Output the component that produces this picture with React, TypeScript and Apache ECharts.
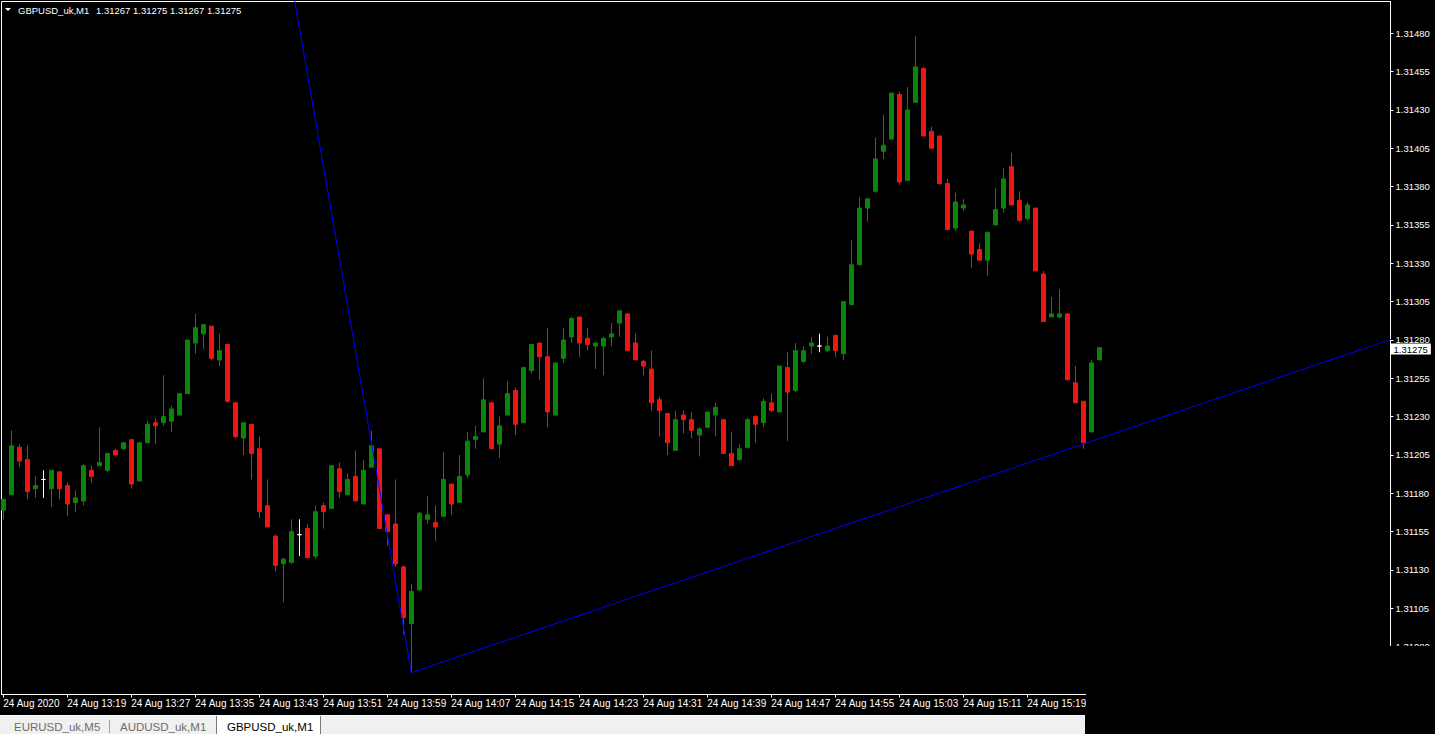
import React, { useEffect, useRef } from 'react';
import * as echarts from 'echarts';

const symbolName = 'GBPUSD_uk,M1';

// one-minute bars, 24 Aug 2020 13:11 .. 15:28
const opens = [
  1.31169, 1.31179, 1.31210, 1.31202, 1.31183, 1.31189, 1.31183, 1.31194, 1.31185, 1.31174,
  1.31175, 1.31195, 1.31198, 1.31195, 1.31208, 1.31209, 1.31215, 1.31188, 1.31213, 1.31226,
  1.31226, 1.31227, 1.31231, 1.31245, 1.31278, 1.31284, 1.31289, 1.31267, 1.31277, 1.31239,
  1.31216, 1.31225, 1.31209, 1.31172, 1.31152, 1.31134, 1.31135, 1.31153, 1.31157, 1.31139,
  1.31172, 1.31170, 1.31196, 1.31179, 1.31191, 1.31173, 1.31197, 1.31209, 1.31166, 1.31160,
  1.31132, 1.31095, 1.31117, 1.31163, 1.31161, 1.31165, 1.31186, 1.31174, 1.31192, 1.31215,
  1.31220, 1.31239, 1.31212, 1.31231, 1.31247, 1.31226, 1.31260, 1.31278, 1.31269, 1.31231,
  1.31268, 1.31282, 1.31295, 1.31281, 1.31276, 1.31276, 1.31282, 1.31291, 1.31297, 1.31278,
  1.31266, 1.31261, 1.31241, 1.31232, 1.31208, 1.31231, 1.31228, 1.31218, 1.31223, 1.31231,
  1.31228, 1.31206, 1.31202, 1.31210, 1.31230, 1.31226, 1.31239, 1.31233, 1.31262, 1.31247,
  1.31266, 1.31276, 1.31276, 1.31273, 1.31283, 1.31271, 1.31303, 1.31329, 1.31366, 1.31377,
  1.31403, 1.31411, 1.31440, 1.31384, 1.31435, 1.31457, 1.31416, 1.31413, 1.31382, 1.31353,
  1.31366, 1.31351, 1.31339, 1.31332, 1.31355, 1.31366, 1.31393, 1.31371, 1.31359, 1.31366,
  1.31323, 1.31295, 1.31295, 1.31297, 1.31252, 1.31240, 1.31220, 1.31267,
];
const highs = [
  1.31176, 1.31221, 1.31212, 1.31211, 1.31191, 1.31195, 1.31195, 1.31194, 1.31187, 1.31182,
  1.31199, 1.31198, 1.31223, 1.31206, 1.31209, 1.31213, 1.31215, 1.31213, 1.31227, 1.31229,
  1.31257, 1.31237, 1.31245, 1.31280, 1.31297, 1.31290, 1.31289, 1.31284, 1.31277, 1.31239,
  1.31226, 1.31225, 1.31217, 1.31189, 1.31153, 1.31138, 1.31163, 1.31163, 1.31160, 1.31172,
  1.31174, 1.31198, 1.31200, 1.31193, 1.31208, 1.31202, 1.31221, 1.31209, 1.31166, 1.31189,
  1.31133, 1.31121, 1.31168, 1.31178, 1.31172, 1.31207, 1.31186, 1.31205, 1.31220, 1.31224,
  1.31255, 1.31239, 1.31230, 1.31253, 1.31249, 1.31262, 1.31277, 1.31278, 1.31288, 1.31265,
  1.31288, 1.31295, 1.31295, 1.31288, 1.31278, 1.31282, 1.31291, 1.31299, 1.31297, 1.31284,
  1.31267, 1.31273, 1.31243, 1.31232, 1.31234, 1.31234, 1.31233, 1.31223, 1.31233, 1.31239,
  1.31228, 1.31220, 1.31212, 1.31229, 1.31231, 1.31242, 1.31245, 1.31263, 1.31272, 1.31278,
  1.31276, 1.31282, 1.31284, 1.31282, 1.31283, 1.31305, 1.31345, 1.31373, 1.31372, 1.31412,
  1.31427, 1.31441, 1.31442, 1.31445, 1.31478, 1.31458, 1.31419, 1.31413, 1.31385, 1.31376,
  1.31372, 1.31351, 1.31343, 1.31351, 1.31379, 1.31392, 1.31402, 1.31377, 1.31370, 1.31366,
  1.31325, 1.31308, 1.31313, 1.31297, 1.31263, 1.31240, 1.31267, 1.31275,
];
const lows = [
  1.31163, 1.31179, 1.31197, 1.31176, 1.31177, 1.31177, 1.31171, 1.31176, 1.31165, 1.31168,
  1.31172, 1.31187, 1.31198, 1.31194, 1.31205, 1.31209, 1.31183, 1.31188, 1.31213, 1.31212,
  1.31224, 1.31220, 1.31231, 1.31245, 1.31271, 1.31274, 1.31267, 1.31263, 1.31239, 1.31216,
  1.31205, 1.31189, 1.31164, 1.31158, 1.31129, 1.31109, 1.31134, 1.31139, 1.31138, 1.31137,
  1.31157, 1.31170, 1.31177, 1.31179, 1.31175, 1.31173, 1.31197, 1.31157, 1.31146, 1.31132,
  1.31088, 1.31063, 1.31117, 1.31160, 1.31149, 1.31165, 1.31166, 1.31174, 1.31190, 1.31209,
  1.31220, 1.31209, 1.31203, 1.31231, 1.31218, 1.31226, 1.31258, 1.31254, 1.31223, 1.31231,
  1.31265, 1.31278, 1.31269, 1.31273, 1.31261, 1.31257, 1.31276, 1.31282, 1.31273, 1.31267,
  1.31257, 1.31234, 1.31217, 1.31205, 1.31208, 1.31219, 1.31216, 1.31204, 1.31223, 1.31217,
  1.31206, 1.31198, 1.31201, 1.31209, 1.31213, 1.31223, 1.31233, 1.31233, 1.31214, 1.31246,
  1.31265, 1.31271, 1.31272, 1.31272, 1.31269, 1.31267, 1.31303, 1.31329, 1.31357, 1.31376,
  1.31398, 1.31411, 1.31381, 1.31384, 1.31435, 1.31413, 1.31405, 1.31381, 1.31352, 1.31351,
  1.31364, 1.31327, 1.31332, 1.31322, 1.31355, 1.31363, 1.31368, 1.31357, 1.31358, 1.31325,
  1.31292, 1.31295, 1.31294, 1.31254, 1.31239, 1.31209, 1.31220, 1.31267,
];
const closes = [
  1.31176, 1.31211, 1.31201, 1.31181, 1.31185, 1.31189, 1.31195, 1.31183, 1.31173, 1.31177,
  1.31198, 1.31191, 1.31200, 1.31206, 1.31205, 1.31213, 1.31186, 1.31213, 1.31225, 1.31224,
  1.31230, 1.31235, 1.31245, 1.31280, 1.31288, 1.31290, 1.31268, 1.31273, 1.31240, 1.31217,
  1.31226, 1.31206, 1.31168, 1.31158, 1.31133, 1.31137, 1.31155, 1.31153, 1.31138, 1.31168,
  1.31168, 1.31198, 1.31181, 1.31189, 1.31175, 1.31195, 1.31211, 1.31157, 1.31155, 1.31134,
  1.31099, 1.31116, 1.31167, 1.31166, 1.31158, 1.31189, 1.31173, 1.31191, 1.31214, 1.31217,
  1.31241, 1.31209, 1.31224, 1.31245, 1.31225, 1.31262, 1.31277, 1.31269, 1.31233, 1.31265,
  1.31280, 1.31294, 1.31278, 1.31277, 1.31278, 1.31281, 1.31284, 1.31299, 1.31273, 1.31267,
  1.31263, 1.31239, 1.31234, 1.31213, 1.31228, 1.31228, 1.31221, 1.31222, 1.31233, 1.31236,
  1.31206, 1.31198, 1.31209, 1.31228, 1.31225, 1.31240, 1.31234, 1.31263, 1.31246, 1.31273,
  1.31273, 1.31278, 1.31276, 1.31276, 1.31273, 1.31305, 1.31329, 1.31366, 1.31372, 1.31398,
  1.31407, 1.31441, 1.31383, 1.31430, 1.31458, 1.31413, 1.31405, 1.31382, 1.31352, 1.31370,
  1.31368, 1.31336, 1.31332, 1.31350, 1.31365, 1.31385, 1.31368, 1.31358, 1.31368, 1.31325,
  1.31292, 1.31297, 1.31297, 1.31254, 1.31239, 1.31213, 1.31265, 1.31275,
];

const timeLabels = [
  '24 Aug 2020', '24 Aug 13:19', '24 Aug 13:27', '24 Aug 13:35', '24 Aug 13:43', '24 Aug 13:51',
  '24 Aug 13:59', '24 Aug 14:07', '24 Aug 14:15', '24 Aug 14:23', '24 Aug 14:31', '24 Aug 14:39',
  '24 Aug 14:47', '24 Aug 14:55', '24 Aug 15:03', '24 Aug 15:11', '24 Aug 15:19',
];
const timeLabelBars = [0, 8, 16, 24, 32, 40, 48, 56, 64, 72, 80, 88, 96, 104, 112, 120, 128];

const priceTicks = [
  1.3108, 1.31105, 1.3113, 1.31155, 1.3118, 1.31205, 1.3123, 1.31255, 1.3128,
  1.31305, 1.3133, 1.31355, 1.3138, 1.31405, 1.3143, 1.31455, 1.3148,
];

// trend lines drawn on the chart: [bar index, price]
const trendLine = [
  [36, 1.31514],
  [51, 1.31063],
  [180, 1.31292],
];

const tabNames = ['EURUSD_uk,M5', 'AUDUSD_uk,M1', 'GBPUSD_uk,M1'];

const FONT = '"Liberation Sans", Arial, sans-serif';
const UP = '#0b840b';
const DOWN = '#f01616';
const X_MIN = -0.225;
const X_MAX = 173.4;

export default function App() {
  const ref = useRef<HTMLDivElement | null>(null);

  useEffect(() => {
    if (!ref.current) return;
    const chart = echarts.init(ref.current, undefined, { renderer: 'svg' });
    const n = closes.length;
    const last = n - 1;
    const candles = opens.map((o, i) => [i, o, closes[i], lows[i], highs[i]]);
    const ohlcText = [opens[last], highs[last], lows[last], closes[last]].map((v) => v.toFixed(5)).join(' ');

    const option: any = {
      animation: false,
      backgroundColor: '#000000',
      grid: {
        left: 1.5,
        top: 1.5,
        right: 44.5,
        bottom: 39.5,
        show: true,
        borderColor: '#ffffff',
        borderWidth: 1,
        backgroundColor: 'transparent',
      },
      xAxis: {
        type: 'value',
        min: X_MIN,
        max: X_MAX,
        axisLine: { show: true, onZero: false, lineStyle: { color: '#ffffff', width: 1 } },
        axisTick: { show: true, customValues: timeLabelBars, length: 3, lineStyle: { color: '#ffffff' } },
        axisLabel: {
          show: true,
          customValues: timeLabelBars,
          formatter: (v: number) => {
            const k = timeLabelBars.indexOf(Math.round(v));
            return k >= 0 ? timeLabels[k] : '';
          },
          align: 'left',
          margin: 4,
          color: '#ffffff',
          fontSize: 10,
          fontFamily: FONT,
        },
        splitLine: { show: false },
      },
      yAxis: {
        type: 'value',
        position: 'right',
        min: 1.3104877,
        max: 1.3150072,
        axisLine: { show: true, onZero: false, lineStyle: { color: '#ffffff', width: 1 } },
        axisTick: { show: true, customValues: priceTicks, length: 3, lineStyle: { color: '#ffffff' } },
        axisLabel: {
          show: true,
          customValues: priceTicks,
          formatter: (v: number) => v.toFixed(5),
          color: '#ffffff',
          fontSize: 9.5,
          margin: 5,
          fontFamily: FONT,
        },
        splitLine: { show: false },
      },
      series: [
        {
          type: 'candlestick',
          data: candles,
          barWidth: 4,
          itemStyle: {
            color: UP,
            color0: DOWN,
            borderColor: UP,
            borderColor0: DOWN,
            borderColorDoji: '#ffffff',
            borderWidth: 1,
          },
        },
        {
          type: 'line',
          data: trendLine,
          showSymbol: false,
          symbol: 'none',
          clip: true,
          lineStyle: { color: '#0000ff', width: 1 },
          z: 5,
        },
        {
          type: 'scatter',
          data: [[X_MAX, closes[last]]],
          symbolSize: 0,
          itemStyle: { color: '#ffffff', opacity: 1 },
          clip: false,
          silent: true,
          z: 20,
          label: {
            show: true,
            position: 'right',
            distance: 0,
            offset: [0, 1.5],
            formatter: () => closes[last].toFixed(5),
            color: '#000000',
            backgroundColor: '#ffffff',
            opacity: 1,
            padding: [1, 3, 0, 3],
            lineHeight: 10,
            fontSize: 9.5,
            fontFamily: FONT,
          },
        },
      ],
      graphic: [
        {
          type: 'polygon',
          shape: { points: [[5, 8], [11, 8], [8, 11]] },
          style: { fill: '#ffffff' },
          z: 50,
        },
        {
          type: 'text',
          x: 18,
          y: 10,
          style: { text: symbolName, fill: '#ffffff', font: `9.5px ${FONT}`, verticalAlign: 'middle' },
          z: 50,
        },
        {
          type: 'text',
          x: 96,
          y: 10,
          style: { text: ohlcText, fill: '#ffffff', font: `9.5px ${FONT}`, verticalAlign: 'middle' },
          z: 50,
        },
        {
          type: 'rect',
          shape: { x: 1086, y: 646, width: 349, height: 88 },
          style: { fill: '#000000' },
          z: 100,
        },
        {
          type: 'rect',
          shape: { x: 0, y: 716, width: 1085, height: 18 },
          style: { fill: '#f0f0f0' },
          z: 101,
        },
        {
          type: 'line',
          shape: { x1: 0, y1: 715.5, x2: 1085, y2: 715.5 },
          style: { stroke: '#ffffff', lineWidth: 1 },
          z: 101,
        },
        {
          type: 'line',
          shape: { x1: 109.5, y1: 720, x2: 109.5, y2: 733 },
          style: { stroke: '#a0a0a0', lineWidth: 1 },
          z: 102,
        },
        {
          type: 'rect',
          shape: { x: 216, y: 716, width: 104, height: 18 },
          style: { fill: '#ffffff' },
          z: 102,
        },
        {
          type: 'line',
          shape: { x1: 216.5, y1: 716, x2: 216.5, y2: 734 },
          style: { stroke: '#7a7a7a', lineWidth: 1 },
          z: 103,
        },
        {
          type: 'line',
          shape: { x1: 320.5, y1: 716, x2: 320.5, y2: 734 },
          style: { stroke: '#7a7a7a', lineWidth: 1 },
          z: 103,
        },
        {
          type: 'text',
          x: 14,
          y: 727,
          style: { text: tabNames[0], fill: '#6d6d6d', font: `11.5px ${FONT}`, verticalAlign: 'middle' },
          z: 104,
        },
        {
          type: 'text',
          x: 120,
          y: 727,
          style: { text: tabNames[1], fill: '#6d6d6d', font: `11.5px ${FONT}`, verticalAlign: 'middle' },
          z: 104,
        },
        {
          type: 'text',
          x: 227,
          y: 727,
          style: { text: tabNames[2], fill: '#000000', font: `11.5px ${FONT}`, verticalAlign: 'middle' },
          z: 104,
        },
      ],
    };

    chart.setOption(option);
    return () => {
      chart.dispose();
    };
  }, []);

  return (
    <div
      ref={ref}
      style={{ position: 'fixed', left: 0, top: 0, width: 1435, height: 734, background: '#000' }}
    />
  );
}
